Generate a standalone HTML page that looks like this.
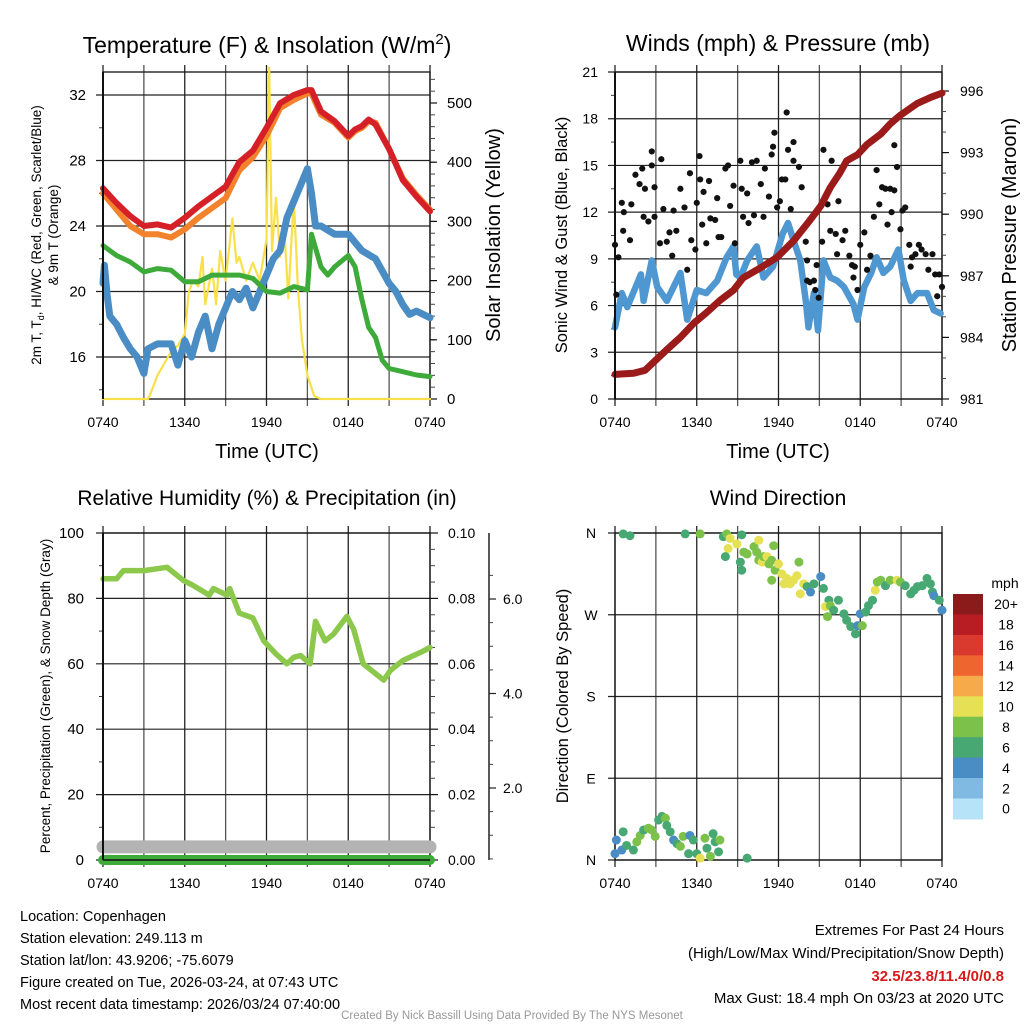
<!DOCTYPE html>
<html><head><meta charset="utf-8">
<style>
html,body{margin:0;padding:0;background:#fff;}
svg{display:block;font-family:"Liberation Sans",Arial,sans-serif;}
</style></head>
<body>
<svg id="chart" width="1024" height="1024" viewBox="0 0 1024 1024" xmlns="http://www.w3.org/2000/svg">
<rect width="1024" height="1024" fill="#fff"/>
<g id="p1"></g>
<g id="p2"></g>
<g id="p3"></g>
<g id="p4"></g>
<text x="267" y="53" font-size="23" text-anchor="middle">Temperature (F) &amp; Insolation (W/m<tspan dy="-9" font-size="15">2</tspan><tspan dy="9">)</tspan></text>
<text x="778" y="51" font-size="23" text-anchor="middle">Winds (mph) &amp; Pressure (mb)</text>
<text x="267" y="505" font-size="21" text-anchor="middle">Relative Humidity (%) &amp; Precipitation (in)</text>
<text x="778" y="505" font-size="21" text-anchor="middle">Wind Direction</text>
<g font-size="14.5">
<text x="20" y="921">Location: Copenhagen</text>
<text x="20" y="943">Station elevation: 249.113 m</text>
<text x="20" y="965">Station lat/lon: 43.9206; -75.6079</text>
<text x="20" y="987">Figure created on Tue, 2026-03-24, at 07:43 UTC</text>
<text x="20" y="1009">Most recent data timestamp: 2026/03/24 07:40:00</text>
</g>
<g font-size="15" text-anchor="end">
<text x="1004" y="935">Extremes For Past 24 Hours</text>
<text x="1004" y="958">(High/Low/Max Wind/Precipitation/Snow Depth)</text>
<text x="1004" y="981" fill="#d7191c" font-weight="bold">32.5/23.8/11.4/0/0.8</text>
<text x="1004" y="1003">Max Gust: 18.4 mph On 03/23 at 2020 UTC</text>
</g>
<text x="512" y="1019" font-size="11.5" fill="#999" text-anchor="middle">Created By Nick Bassill Using Data Provided By The NYS Mesonet</text>
</svg>
<script>
// ---------- data ----------
const xTickLabels = ["0740","1340","1940","0140","0740"];
const tempTimes = [0,1,2,3,4,5,6,7,8,9,10,11,12,13,14,15,15.3,16,17,18,18.5,19,19.5,20,21,22,23,24];
const tempRed   = [26.3,25.4,24.6,24.0,24.1,23.9,24.5,25.2,25.8,26.4,27.9,28.6,30.0,31.5,32.0,32.3,32.3,31.0,30.4,29.5,29.9,30.1,30.5,30.2,28.7,26.8,25.8,24.9];
const tempOrange= [26.0,25.0,24.0,23.5,23.5,23.3,23.8,24.5,25.1,25.7,27.4,28.2,29.5,31.2,31.7,32.1,32.1,30.8,30.3,29.4,29.8,30.0,30.4,30.3,28.7,26.9,25.9,25.0];
const dewTimes  = [0,1,2,3,4,5,6,7,8,9,10,11,12,13,14,15,15.3,16,16.5,17,18,18.5,19,19.5,20,20.5,21,22,23,24];
const dewValues = [22.8,22.2,21.8,21.2,21.4,21.3,20.6,20.6,21.0,21.0,21.0,20.8,20.0,19.9,20.3,20.1,23.5,21.5,21.0,21.5,22.2,21.5,19.5,17.8,17.2,15.8,15.3,15.1,14.9,14.8];
const chillTimes  = [0,0.1,0.3,0.5,1,1.5,2,2.5,3,3.3,4,5,5.5,6,6.5,7,7.5,8,8.5,9,9.5,10,10.5,11,11.5,12,12.5,13,13.5,14,14.5,15,15.3,15.6,16,17,18,18.5,19,20,21,21.5,22,22.5,23,24];
const chillValues = [20.5,21.6,19.8,18.5,18.0,17.2,16.5,16.0,15.0,16.5,16.8,16.8,15.5,17.0,16.0,17.5,18.5,16.5,18.0,19.0,20.0,19.5,20.2,19.0,20.0,21.0,22.0,22.5,24.5,25.5,26.5,27.5,26.0,24.0,24.0,23.5,23.5,23.0,22.5,22.0,20.5,20.0,19.2,18.6,18.8,18.4];
const solarTimes  = [0,3.3,3.5,4,4.5,5,5.5,6,6.3,6.6,7,7.3,7.5,8,8.3,8.6,9,9.5,9.8,10,10.5,11,11.5,12,12.2,12.4,12.7,13,13.3,13.6,14,14.3,14.6,15,15.5,16,24];
const solarValues = [0,0,10,40,60,80,90,110,180,200,190,240,160,220,160,250,200,305,230,240,200,230,200,270,560,250,340,240,290,170,340,190,100,40,5,0,0];

const windTimes  = [0,0.5,0.9,1.9,2.1,2.7,3.1,3.8,4.8,5.3,6.0,6.7,7.5,8.2,8.7,8.9,9.2,9.7,10.4,10.9,11.6,12.3,12.7,13.1,13.6,14.0,14.2,14.6,14.9,15.3,15.8,16.3,16.8,17.5,17.8,18.3,18.8,19.2,19.7,20.2,20.8,21.2,21.7,22.2,22.9,23.4,23.9];
const windValues = [4.6,6.8,5.9,8.0,6.3,8.9,7.2,6.3,8.1,5.1,7.0,6.8,7.6,9.1,9.8,8.0,7.8,8.9,9.8,7.8,8.5,10.6,11.3,10.2,8.9,6.3,4.6,6.8,4.4,8.9,7.8,7.6,7.2,6.1,5.1,7.2,8.1,9.1,8.1,8.5,9.6,7.6,6.3,6.8,6.8,5.7,5.5];
const gustTimes  = [0.0,0.25,0.1,0.5,0.65,0.6,1.1,1.2,1.5,2.0,1.8,2.1,2.2,2.45,2.7,2.7,2.9,2.9,3.3,3.4,3.55,3.8,4.0,4.2,4.3,4.5,4.8,5.1,5.3,5.5,5.6,5.9,6.0,6.2,6.25,6.4,6.5,6.7,6.9,7.0,7.35,7.5,7.6,7.8,8.1,8.3,8.45,8.7,8.8,9.2,9.3,9.4,9.7,9.8,10.05,10.2,10.4,10.7,10.9,11.0,11.3,11.5,11.6,11.7,11.9,12.1,12.25,12.5,12.6,12.7,12.9,13.1,13.1,13.5,13.7,14.0,14.1,14.1,14.3,14.6,14.7,14.8,14.95,15.2,15.3,15.6,15.8,15.9,16.2,16.3,16.4,16.7,16.9,17.2,17.4,17.5,17.6,17.8,18.0,18.3,18.5,18.75,19.0,19.2,19.4,19.6,19.85,20.0,20.2,20.3,20.5,20.5,20.7,20.95,21.1,21.3,21.6,21.7,21.8,22.05,22.3,22.5,22.8,23.0,23.3,23.5,23.65,23.8,24.0];
const gustValues = [9.9,9.1,6.7,12.6,12.0,10.8,10.2,12.5,14.4,14.8,13.8,11.7,13.5,11.4,15.0,15.9,13.6,11.7,10.0,15.4,12.2,10.1,10.7,9.2,12.1,10.8,13.5,12.3,8.3,14.5,10.2,9.6,12.6,15.6,14.1,11.2,13.3,10.0,14.0,11.6,11.5,12.9,10.4,10.4,14.8,15.0,12.4,13.7,10.0,15.3,13.5,11.7,13.2,11.3,15.2,11.8,15.3,13.8,11.7,14.8,13.0,15.7,16.2,17.1,12.3,12.7,14.1,14.1,18.4,16.0,12.2,16.5,15.3,14.9,13.6,10.1,8.9,7.6,7.5,7.6,7.0,8.6,6.5,10.1,16.0,12.5,10.8,15.3,10.6,9.3,12.7,10.2,10.8,9.2,8.6,7.8,8.5,7.0,9.9,10.7,8.3,9.2,11.7,14.7,12.5,13.6,13.5,11.2,13.5,12.0,13.4,16.3,14.9,10.9,12.1,12.3,9.9,8.5,9.1,9.3,9.9,9.6,9.3,8.3,9.3,8.0,6.6,8.0,7.2];
const presTimes  = [0,1.35,2.2,3.8,4.8,5.8,6.7,7.7,8.7,9.4,10.7,11.9,13.1,14.3,15.1,15.8,16.5,17.0,17.8,18.5,19.5,20.2,20.9,22.2,23.2,24];
const presValues = [982.2,982.25,982.4,983.4,984.0,984.7,985.2,985.8,986.3,986.9,987.4,987.9,988.7,989.7,990.4,991.3,992.0,992.6,992.9,993.4,993.9,994.4,994.8,995.4,995.7,995.9];

const rhTimes  = [0,1,1.5,3,4.7,5.9,6.6,7.8,8.1,9.1,9.3,10,11,11.8,12.7,13.5,14,14.5,15.2,15.6,16.3,16.9,17.9,18.4,19.1,20.6,21.1,22,23.3,24];
const rhValues = [86,86,88.5,88.5,89.5,85.5,84,81,83,81,83,75.5,74,67,63,60,62,62.5,60,73,67,69,74.5,70.5,60,55,58,61,63.5,65];
const snowDepth = [0.8,0.8];
const precipTotal = [0,0];

const dirTimes  = [0.6,1.1,5.15,6.25,9.3,7.95,8.2,8.45,8.3,8.1,8.95,9.2,9.3,9.45,9.7,10.2,10.4,10.55,10.55,10.8,10.9,11.15,11.3,11.5,11.65,11.75,11.5,12.0,12.25,12.4,12.6,12.85,13.1,13.35,13.5,13.6,13.85,14.1,14.35,14.6,15.1,15.3,15.7,15.45,15.8,16.4,16.05,15.6,16.8,17.0,17.3,17.65,17.8,18.0,18.15,18.4,18.6,18.9,19.1,19.25,19.5,19.85,20.2,20.7,20.95,21.3,21.7,21.95,22.2,22.55,22.9,23.15,23.3,23.4,23.8,24.0,
0.0,0.1,0.6,0.5,0.85,1.35,1.6,1.85,2.1,2.45,2.7,2.95,3.2,3.45,3.7,3.8,4.05,4.3,4.55,4.8,5.0,5.4,5.5,5.75,6.0,6.25,6.6,6.75,7.0,7.2,7.35,7.6,7.7,9.7];
const dirValues = [359,357,359,359,358,356,359,354,343,334,348,328,319,339,337,345,339,330,352,328,334,334,326,330,346,319,308,326,315,304,310,304,308,313,328,293,304,301,295,304,312,299,286,279,280,286,275,268,271,264,257,249,258,271,258,273,280,286,297,306,308,302,308,308,306,302,293,297,301,302,310,304,295,291,286,275,
7,22,31,11,16,11,20,27,33,35,33,26,44,48,46,38,31,22,18,15,26,7,27,22,7,2,24,13,4,29,20,9,22,2];
const dirSpeeds = [6,6,6,8,6,6,8,10,10,6,10,6,6,8,8,8,8,8,10,10,8,10,8,8,8,8,8,10,10,10,10,10,10,10,8,10,10,6,4,6,4,6,6,10,8,6,6,8,6,6,6,6,4,4,8,6,6,6,10,8,8,6,8,10,8,6,6,6,6,6,6,6,6,4,6,4,
4,4,6,4,6,6,8,8,6,8,8,8,6,6,8,6,6,4,6,8,8,6,4,6,6,10,8,6,8,6,6,6,8,6];
const speedLabels = ["20+","18","16","14","12","10","8","6","4","2","0"];
const speedColors = ["#8b1a1a","#b81d24","#d93a2d","#ef6530","#f6aa49","#e6e054","#7cc24a","#48a873","#4a8cc4","#80bae2","#b6e3f7"];

// ---------- helpers ----------
const NS="http://www.w3.org/2000/svg";
function mk(parent,tag,attrs){const e=document.createElementNS(NS,tag);for(const k in attrs)e.setAttribute(k,attrs[k]);parent.appendChild(e);return e;}
function lin(d0,d1,r0,r1){return v=>r0+(v-d0)*(r1-r0)/(d1-d0);}
function pathFrom(ts,vs,sx,sy){return ts.map((t,i)=>(i?"L":"M")+sx(t).toFixed(1)+","+sy(vs[i]).toFixed(1)).join("");}

function frame(g,x0,x1,y0,y1,hGridVals,sy,name){
  const sx=lin(0,24,x0,x1);
  for(let h=0;h<=24;h+=3){
    const l=mk(g,"line",{x1:sx(h),x2:sx(h),y1:y0-7,y2:y1+7,stroke:(h%6===0?"#222":"#555"),"stroke-width":1.3});
    
    
  }
  hGridVals.forEach(v=>{
    const l=mk(g,"line",{x1:x0-7,x2:x1,y1:sy(v),y2:sy(v),stroke:"#222","stroke-width":1.2});
    
    
  });
  const b=mk(g,"rect",{x:x0,y:y0,width:x1-x0,height:y1-y0,fill:"none",stroke:"#111","stroke-width":1.3});
  
  
  xTickLabels.forEach((s,i)=>{
    const t=mk(g,"text",{x:sx(i*6),y:y1+28,"font-size":14,"text-anchor":"middle"});t.textContent=s;
    
    
  });
  return sx;
}
function leftLabels(g,vals,sy,x,fmt,size){
  vals.forEach(v=>{const t=mk(g,"text",{x:x,y:sy(v)+5,"font-size":size||15,"text-anchor":"end"});t.textContent=fmt?fmt(v):v;
    
    });
}
function minorTicks(g,x,vals,sy,len){
  vals.forEach(v=>{const l=mk(g,"line",{x1:x,x2:x+len,y1:sy(v),y2:sy(v),stroke:"#444","stroke-width":1});
    
    });
}
function rotLabel(g,x,y,txt,size,name){
  const t=mk(g,"text",{x:0,y:0,"font-size":size,"text-anchor":"middle",transform:`translate(${x},${y}) rotate(-90)`});t.textContent=txt;
  
  
  return t;
}
function seriesLine(g,d,color,w,name){
  const p=mk(g,"path",{d:d,fill:"none",stroke:color,"stroke-width":w,"stroke-linejoin":"round","stroke-linecap":"round"});
  
  
  return p;
}

// ---------- panel 1 ----------
(function(){
  const g=document.getElementById("p1");
  const x0=103,x1=430,y0=72,y1=399;
  const sy=lin(16,32,357,95), sr=lin(0,500,399,103);
  const sx=frame(g,x0,x1,y0,y1,[16,20,24,28,32],sy,"temp");
  leftLabels(g,[16,20,24,28,32],sy,86);
  minorTicks(g,x0-4,[14,18,22,26,30],sy,4);
  const minorR=[];for(let v=20;v<=540;v+=20)minorR.push(v);minorTicks(g,x1,minorR,sr,5);
  [0,100,200,300,400,500].forEach(v=>{
    mk(g,"line",{x1:x1,x2:x1+7,y1:sr(v),y2:sr(v),stroke:"#111","stroke-width":1.2});
    const t=mk(g,"text",{x:x1+17,y:sr(v)+5,"font-size":15});t.textContent=v;
    
    
  });
  seriesLine(g,pathFrom(solarTimes,solarValues,sx,sr),"#f9e04b",2.2,"solar-insolation-line");
  seriesLine(g,pathFrom(chillTimes,chillValues,sx,sy),"#4a8cc4",7,"wind-chill-line");
  seriesLine(g,pathFrom(dewTimes,dewValues,sx,sy),"#3daa3a",5,"dewpoint-line");
  seriesLine(g,pathFrom(tempTimes,tempOrange,sx,sy),"#f2822b",6,"temp-9m-line");
  seriesLine(g,pathFrom(tempTimes,tempRed,sx,sy),"#d62027",6,"temp-2m-line");
  mk(g,"line",{x1:x0,x2:x0,y1:y0,y2:y1,stroke:"#111","stroke-width":2});
  const t=mk(g,"text",{x:0,y:0,"font-size":13.5,"text-anchor":"middle",transform:"translate(41,235) rotate(-90)"});
  t.innerHTML='2m T, T<tspan font-size="9" dy="3">d</tspan><tspan dy="-3">, HI/WC (Red, Green, Scarlet/Blue)</tspan>';
  
  
  rotLabel(g,58,235,"& 9m T (Orange)",13.5,"left-axis-title-2");
  rotLabel(g,500,235,"Solar Insolation (Yellow)",20,"right-axis-title");
  const tt=mk(g,"text",{x:267,y:458,"font-size":20,"text-anchor":"middle"});tt.textContent="Time (UTC)";
  
  
})();

// ---------- panel 2 ----------
(function(){
  const g=document.getElementById("p2");
  const x0=615,x1=942,y0=72,y1=399;
  const sy=lin(0,21,399,72), sp=lin(981,996,399,91);
  const ticks=[0,3,6,9,12,15,18,21];
  const sx=frame(g,x0,x1,y0,y1,ticks,sy,"winds");
  leftLabels(g,ticks,sy,598,null,14);
  minorTicks(g,x0-4,[1.5,4.5,7.5,10.5,13.5,16.5,19.5],sy,4);
  const mr=[];for(let v=982;v<=996;v++)mr.push(v);minorTicks(g,x1,mr,sp,4);
  [981,984,987,990,993,996].forEach(v=>{
    mk(g,"line",{x1:x1,x2:x1+7,y1:sp(v),y2:sp(v),stroke:"#111","stroke-width":1.2});
    const t=mk(g,"text",{x:x1+18,y:sp(v)+5,"font-size":14});t.textContent=v;
    
    
  });
  seriesLine(g,pathFrom(windTimes,windValues,sx,sy),"#4f97d1",6.5,"sonic-wind-line");
  gustTimes.forEach((t,i)=>{
    const c=mk(g,"circle",{cx:sx(t),cy:sy(gustValues[i]),r:3.1,fill:"#111"});
    
    
  });
  seriesLine(g,pathFrom(presTimes,presValues,sx,sp),"#9b1a1a",7,"pressure-line");
  mk(g,"line",{x1:x0,x2:x0,y1:y0,y2:y1,stroke:"#111","stroke-width":2});
  rotLabel(g,567,235,"Sonic Wind & Gust (Blue, Black)",16.5,"left-axis-title");
  rotLabel(g,1016,235,"Station Pressure (Maroon)",20,"right-axis-title");
  const tt=mk(g,"text",{x:778,y:458,"font-size":20,"text-anchor":"middle"});tt.textContent="Time (UTC)";
  
  
})();

// ---------- panel 3 ----------
(function(){
  const g=document.getElementById("p3");
  const x0=103,x1=430,y0=533,y1=860;
  const sy=lin(0,100,860,533), sr=lin(0,0.10,860,533), ss=lin(2,6,788,599);
  const ticks=[0,20,40,60,80,100];
  const sx=frame(g,x0,x1,y0,y1,ticks,sy,"rh");
  leftLabels(g,ticks,sy,84);
  minorTicks(g,x0-4,[10,30,50,70,90],sy,4);
  const mr=[];for(let v=5;v<100;v+=5)if(v%20)mr.push(v/1000);minorTicks(g,x1,mr,sr,5);
  [0,0.02,0.04,0.06,0.08,0.10].forEach(v=>{
    mk(g,"line",{x1:x1,x2:x1+8,y1:sr(v),y2:sr(v),stroke:"#111","stroke-width":1.2});
    const t=mk(g,"text",{x:x1+18,y:sr(v)+5,"font-size":14});t.textContent=v.toFixed(2);
    
    
  });
  const sa=mk(g,"line",{x1:489,x2:489,y1:533,y2:860,stroke:"#222","stroke-width":1.5});
  
  
  [0.5,1,1.5,2.5,3,3.5,4.5,5,5.5,6.5].forEach(v=>mk(g,"line",{x1:489,x2:493,y1:ss(v),y2:ss(v),stroke:"#444","stroke-width":1}));
  [2,4,6].forEach(v=>{
    mk(g,"line",{x1:489,x2:496,y1:ss(v),y2:ss(v),stroke:"#222","stroke-width":1.2});
    const t=mk(g,"text",{x:503,y:ss(v)+5,"font-size":14});t.textContent=v.toFixed(1);
    
    
  });
  seriesLine(g,pathFrom([0,24],snowDepth.map(v=>v*5),sx,sy),"#b3b3b3",13,"snow-depth-line");
  seriesLine(g,pathFrom([0,24],precipTotal,sx,sr),"#3daa3a",10,"precipitation-line");
  seriesLine(g,pathFrom(rhTimes,rhValues,sx,sy),"#8cc84b",5.5,"relative-humidity-line");
  mk(g,"line",{x1:x0,x2:x0,y1:y0,y2:y1,stroke:"#111","stroke-width":2});
  mk(g,"line",{x1:x0,x2:x1,y1:y1,y2:y1,stroke:"#111","stroke-width":1.5});
  rotLabel(g,50,696,"Percent, Precipitation (Green), & Snow Depth (Gray)",13.5,"left-axis-title");
})();

// ---------- panel 4 ----------
(function(){
  const g=document.getElementById("p4");
  const x0=615,x1=942,y0=533,y1=860;
  const sy=lin(0,360,860,533);
  const sx=frame(g,x0,x1,y0,y1,[0,90,180,270,360],sy,"dir");
  const dl=["N","E","S","W","N"];
  [0,90,180,270,360].forEach((v,i)=>{const t=mk(g,"text",{x:591,y:sy(v)+5,"font-size":14,"text-anchor":"middle"});t.textContent=dl[i];
    
    });
  function col(s){let i=Math.min(10,Math.floor(s/2));return speedColors[10-i];}
  dirTimes.forEach((t,i)=>{
    const c=mk(g,"circle",{cx:sx(t),cy:sy(dirValues[i]),r:4.5,fill:col(dirSpeeds[i])});
    
    
  });
  rotLabel(g,568,696,"Direction (Colored By Speed)",16.5,"left-axis-title");
  const h=20.45;
  speedLabels.forEach((s,i)=>{
    const r=mk(g,"rect",{x:953,y:594+i*h,width:30,height:h+0.5,fill:speedColors[i]});
    
    
    const t=mk(g,"text",{x:1006,y:594+i*h+h/2+5,"font-size":14,"text-anchor":"middle"});t.textContent=s;
    
    
  });
  const u=mk(g,"text",{x:1005,y:588,"font-size":14,"text-anchor":"middle"});u.textContent="mph";
  
  
})();
</script>
</body></html>
